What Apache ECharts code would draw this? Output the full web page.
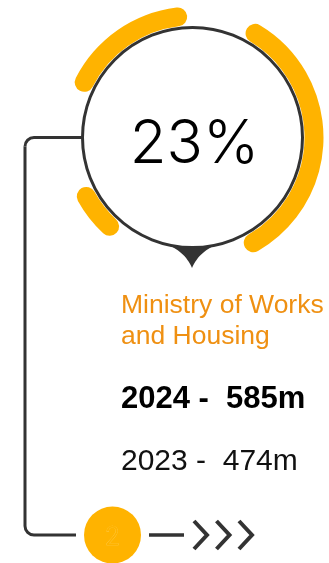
<!DOCTYPE html>
<html>
<head>
<meta charset="utf-8">
<style>
  html, body { margin: 0; padding: 0; background: #ffffff; }
  #chart { width: 329px; height: 563px; }
</style>
<script src="https://cdn.jsdelivr.net/npm/echarts@6/dist/echarts.min.js"></script>
</head>
<body>
<div id="chart"></div>
<script>
// Ring segments around the badge, in degrees (0 = right, counter-clockwise)
const ringStart = [-60, 97, 209];
const ringEnd = [59, 153, 227];

// Ministry and its budget figures
const ministryLines = ['Ministry of Works', 'and Housing'];
const years = ['2024', '2023'];
const amounts = [585, 474];
const stepNumber = '2';

// Year-on-year change shown in the circle
const changePct = Math.round((amounts[0] - amounts[1]) / amounts[1] * 100);

const YELLOW = '#FFB300';
const ORANGE = '#EF9012';
const DARK = '#333333';
const LIGHT_FONT = 'Inter, Roboto, sans-serif';
const FONT = '"Liberation Sans", Arial, Helvetica, sans-serif';

const cx = 192.5, cy = 137.5, R = 110;

// Stacked polar bars: transparent gaps alternate with rounded arcs
const ringSeries = [];
let cursor = 0;
ringStart.forEach(function (s, i) {
  const a = s + 90, b = ringEnd[i] + 90;
  ringSeries.push({
    type: 'bar', coordinateSystem: 'polar', stack: 'ring',
    barWidth: '100%', silent: true,
    itemStyle: { color: 'rgba(0,0,0,0)' },
    data: [a - cursor]
  });
  ringSeries.push({
    type: 'bar', coordinateSystem: 'polar', stack: 'ring',
    barWidth: '100%', roundCap: true, silent: true,
    itemStyle: { color: YELLOW },
    data: [b - a]
  });
  cursor = b;
});

// Pointer under the circle: two concave quadratic sides meeting at a tip
function quad(p0, c, p2, n) {
  const pts = [];
  for (let k = 0; k <= n; k++) {
    const t = k / n;
    pts.push([
      (1 - t) * (1 - t) * p0[0] + 2 * (1 - t) * t * c[0] + t * t * p2[0],
      (1 - t) * (1 - t) * p0[1] + 2 * (1 - t) * t * c[1] + t * t * p2[1]
    ]);
  }
  return pts;
}
const tip = [cx - 0.5, cy + 130.5];
const pointerPts = quad([cx - 28, cy + 106], [cx - 8, cy + 113], tip, 16)
  .concat(quad(tip, [cx + 7, cy + 113], [cx + 27, cy + 106], 16).slice(1))
  .concat([[cx, cy + 95]]);

// Chevrons after the step badge
const chevrons = [];
for (let i = 0; i < 3; i++) {
  const x0 = 194 + i * 22.5;
  chevrons.push({
    type: 'polyline', z: 20,
    shape: { points: [[x0, 521], [x0 + 13, 535], [x0, 549]] },
    style: { stroke: DARK, lineWidth: 4, fill: null, lineJoin: 'miter', lineCap: 'butt' }
  });
}

const graphic = [
  {
    type: 'polygon', z: 5,
    shape: { points: pointerPts },
    style: { fill: DARK }
  },
  {
    type: 'circle', z: 10,
    shape: { cx: cx, cy: cy, r: R },
    style: { fill: '#ffffff', stroke: DARK, lineWidth: 3 }
  },
  {
    type: 'text', z: 12,
    style: {
      text: changePct + '%', x: cx + 2, y: cy + 7,
      fontFamily: LIGHT_FONT, fontSize: 60, fontWeight: 300,
      fill: '#000000', align: 'center', verticalAlign: 'middle'
    }
  },
  // connector from the circle down to the step badge
  {
    type: 'polyline', z: 8,
    shape: { points: [[cx - R, cy], [34, cy]] },
    style: { stroke: DARK, lineWidth: 3, fill: null }
  },
  {
    type: 'arc', z: 8,
    shape: { cx: 34, cy: cy + 9, r: 9, startAngle: Math.PI, endAngle: Math.PI * 1.5 },
    style: { stroke: DARK, lineWidth: 3, fill: null }
  },
  {
    type: 'polyline', z: 8,
    shape: { points: [[25, cy + 9], [25, 526]] },
    style: { stroke: DARK, lineWidth: 3, fill: null }
  },
  {
    type: 'arc', z: 8,
    shape: { cx: 34, cy: 526, r: 9, startAngle: Math.PI * 0.5, endAngle: Math.PI },
    style: { stroke: DARK, lineWidth: 3, fill: null }
  },
  {
    type: 'polyline', z: 8,
    shape: { points: [[34, 535], [76, 535]] },
    style: { stroke: DARK, lineWidth: 3, fill: null }
  },
  {
    type: 'polyline', z: 8,
    shape: { points: [[149, 535], [184, 535]] },
    style: { stroke: DARK, lineWidth: 3.5, fill: null }
  },
  // step badge
  {
    type: 'circle', z: 10,
    shape: { cx: 112.5, cy: 535, r: 28.5 },
    style: { fill: YELLOW }
  },
  {
    type: 'text', z: 11,
    style: {
      text: stepNumber, x: 112.5, y: 537,
      fontFamily: LIGHT_FONT, fontSize: 25, fontWeight: 300,
      fill: YELLOW, stroke: 'rgba(255,222,130,0.6)', lineWidth: 0.6,
      align: 'center', verticalAlign: 'middle'
    }
  },
  // labels
  {
    type: 'text', z: 12,
    style: {
      text: ministryLines[0], x: 121, y: 305.5,
      fontFamily: FONT, fontSize: 26.5, fill: ORANGE, verticalAlign: 'middle'
    }
  },
  {
    type: 'text', z: 12,
    style: {
      text: ministryLines[1], x: 121, y: 336.5,
      fontFamily: FONT, fontSize: 26.5, fill: ORANGE, verticalAlign: 'middle'
    }
  },
  {
    type: 'text', z: 12,
    style: {
      text: years[0] + ' -  ' + amounts[0] + 'm', x: 121, y: 399,
      fontFamily: FONT, fontSize: 31, fontWeight: 'bold', fill: '#000000', verticalAlign: 'middle'
    }
  },
  {
    type: 'text', z: 12,
    style: {
      text: years[1] + ' -  ' + amounts[1] + 'm', x: 121, y: 462,
      fontFamily: FONT, fontSize: 30, fontWeight: 'normal', fill: '#111111', verticalAlign: 'middle'
    }
  }
].concat(chevrons);

const chart = echarts.init(document.getElementById('chart'), null, { renderer: 'canvas' });
chart.setOption({
  animation: false,
  backgroundColor: '#ffffff',
  polar: { center: [cx, cy], radius: [112, 131] },
  angleAxis: {
    type: 'value', min: 0, max: 360, startAngle: 270, clockwise: false,
    axisLine: { show: false }, axisTick: { show: false },
    axisLabel: { show: false }, splitLine: { show: false }
  },
  radiusAxis: {
    type: 'category', data: ['ring'],
    axisLine: { show: false }, axisTick: { show: false },
    axisLabel: { show: false }, splitLine: { show: false }
  },
  series: ringSeries,
  graphic: graphic
});
</script>
</body>
</html>
